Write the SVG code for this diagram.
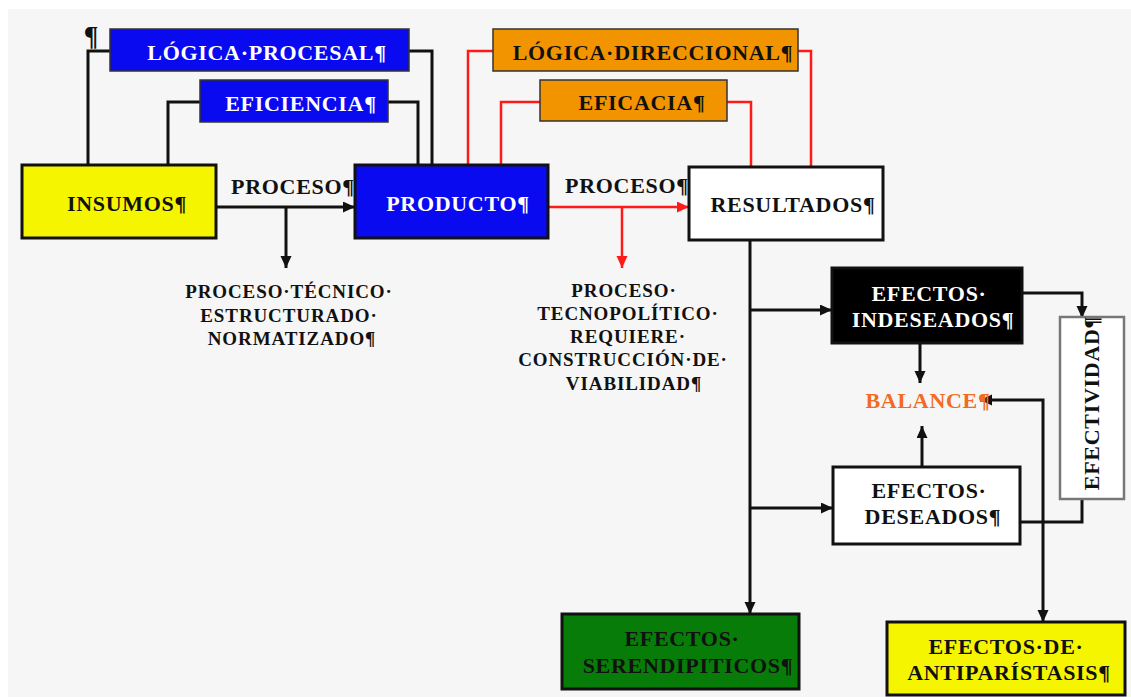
<svg xmlns="http://www.w3.org/2000/svg" width="1131" height="697" viewBox="0 0 1131 697">
  <style>
    .t { font-family: "Liberation Serif", "Times New Roman", serif; font-weight: bold; font-size: 22px; letter-spacing: 0.7px; text-anchor: middle; fill: #111; }
    .s { font-size: 19px; letter-spacing: 0.9px; }
    .w { fill: #fff; }
    .box { stroke: #111; stroke-width: 3; }
    .tag { stroke: #333; stroke-width: 1.5; }
    .blue { fill: #0a0af0; }
    .orange { fill: #f29400; }
    .yellow { fill: #f5f500; }
    .white { fill: #fff; }
    .black { fill: #000; }
    .green { fill: #087c08; }
    .ln { fill: none; stroke: #111; stroke-width: 3; }
    .rd { fill: none; stroke: #ff1a1a; stroke-width: 2.5; }
  </style>
  <defs>
    <marker id="ah" markerUnits="userSpaceOnUse" markerWidth="13" markerHeight="12" refX="12" refY="5.5" orient="auto-start-reverse">
      <path d="M0,0 L12,5.5 L0,11 z" fill="#111"/>
    </marker>
    <marker id="ahr" markerUnits="userSpaceOnUse" markerWidth="13" markerHeight="12" refX="12" refY="5.5" orient="auto">
      <path d="M0,0 L12,5.5 L0,11 z" fill="#ff1a1a"/>
    </marker>
  </defs>

  <!-- page -->
  <rect x="0" y="0" width="1131" height="697" fill="#fff"/>
  <rect x="8" y="9" width="1123" height="688" fill="#f6f6f6"/>

  <!-- connectors -->
  <g id="connectors">
    <path class="ln" d="M88,165 V51 H110"/>
    <path class="ln" d="M409,51 H432 V165"/>
    <path class="ln" d="M168,165 V102 H200"/>
    <path class="ln" d="M388,102 H418 V165"/>
    <path class="rd" d="M468,165 V51 H493"/>
    <path class="rd" d="M798,51 H811 V167"/>
    <path class="rd" d="M501,165 V102 H540"/>
    <path class="rd" d="M727,102 H751 V167"/>
    <path class="ln" d="M216,207 H355" marker-end="url(#ah)"/>
    <path class="ln" d="M286,207 V268" marker-end="url(#ah)"/>
    <path class="rd" d="M548,207 H689" marker-end="url(#ahr)"/>
    <path class="rd" d="M622,207 V268" marker-end="url(#ahr)"/>
    <path class="ln" d="M750,240 V614" marker-end="url(#ah)"/>
    <path class="ln" d="M750,310 H832" marker-end="url(#ah)"/>
    <path class="ln" d="M750,508 H833" marker-end="url(#ah)"/>
    <path class="ln" d="M920,343 V383" marker-end="url(#ah)"/>
    <path class="ln" d="M922,467 V426" marker-end="url(#ah)"/>
    <path class="ln" d="M1022,293 H1082 V318" marker-end="url(#ah)"/>
    <path class="ln" d="M1020,522 H1082 V499"/>
    <path class="ln" d="M980,400 H1043 V622" marker-start="url(#ah)" marker-end="url(#ah)"/>
  </g>

  <text class="t" x="91" y="45" style="letter-spacing:0;font-size:27px">¶</text>

  <g id="logica-procesal">
    <rect class="tag blue" x="110" y="29" width="299" height="42"/>
    <text class="t w" x="267" y="60">LÓGICA·PROCESAL¶</text>
  </g>
  <g id="eficiencia">
    <rect class="tag blue" x="200" y="80" width="188" height="42"/>
    <text class="t w" x="301" y="111">EFICIENCIA¶</text>
  </g>
  <g id="logica-direccional">
    <rect class="tag orange" x="493" y="29" width="305" height="42"/>
    <text class="t" x="653" y="60">LÓGICA·DIRECCIONAL¶</text>
  </g>
  <g id="eficacia">
    <rect class="tag orange" x="540" y="80" width="187" height="41"/>
    <text class="t" x="642" y="110">EFICACIA¶</text>
  </g>

  <g id="insumos">
    <rect class="box yellow" x="22" y="165" width="194" height="73"/>
    <text class="t" x="127" y="211">INSUMOS¶</text>
  </g>
  <g id="producto">
    <rect class="box blue" x="355" y="165" width="193" height="73"/>
    <text class="t w" x="458" y="211">PRODUCTO¶</text>
  </g>
  <g id="resultados">
    <rect class="box white" x="689" y="167" width="194" height="73"/>
    <text class="t" x="793" y="212">RESULTADOS¶</text>
  </g>

  <g id="proceso-1">
    <text class="t" x="293" y="194">PROCESO¶</text>
  </g>
  <g id="proceso-2">
    <text class="t" x="627" y="193">PROCESO¶</text>
  </g>

  <g id="proceso-tecnico">
    <text class="t s" x="289" y="298">PROCESO·TÉCNICO·</text>
    <text class="t s" x="289" y="322">ESTRUCTURADO·</text>
    <text class="t s" x="292" y="345">NORMATIZADO¶</text>
  </g>
  <g id="proceso-tecnopolitico">
    <text class="t s" x="624" y="297">PROCESO·</text>
    <text class="t s" x="628" y="320">TECNOPOLÍTICO·</text>
    <text class="t s" x="628" y="343">REQUIERE·</text>
    <text class="t s" x="623" y="366">CONSTRUCCIÓN·DE·</text>
    <text class="t s" x="634" y="390">VIABILIDAD¶</text>
  </g>

  <g id="efectos-indeseados">
    <rect class="box black" x="832" y="268" width="190" height="75"/>
    <text class="t w" x="929" y="301">EFECTOS·</text>
    <text class="t w" x="933" y="327">INDESEADOS¶</text>
  </g>
  <g id="balance">
    <text class="t" x="928" y="408" style="fill:#f46a22">BALANCE¶</text>
  </g>
  <g id="efectos-deseados">
    <rect class="box white" x="833" y="467" width="187" height="77"/>
    <text class="t" x="929" y="498">EFECTOS·</text>
    <text class="t" x="933" y="524">DESEADOS¶</text>
  </g>
  <g id="efectividad">
    <rect x="1060" y="317" width="64" height="182" fill="#fff" stroke="#777" stroke-width="2.5"/>
    <text class="t" transform="translate(1099,403) rotate(-90)">EFECTIVIDAD¶</text>
  </g>
  <g id="efectos-serendipiticos">
    <rect class="box green" x="562" y="614" width="237" height="75"/>
    <text class="t" x="682" y="646">EFECTOS·</text>
    <text class="t" x="688" y="673">SERENDIPITICOS¶</text>
  </g>
  <g id="efectos-antiparistasis">
    <rect class="box yellow" x="887" y="622" width="238" height="73"/>
    <text class="t" x="1006" y="654">EFECTOS·DE·</text>
    <text class="t" x="1009" y="680">ANTIPARÍSTASIS¶</text>
  </g>
</svg>
